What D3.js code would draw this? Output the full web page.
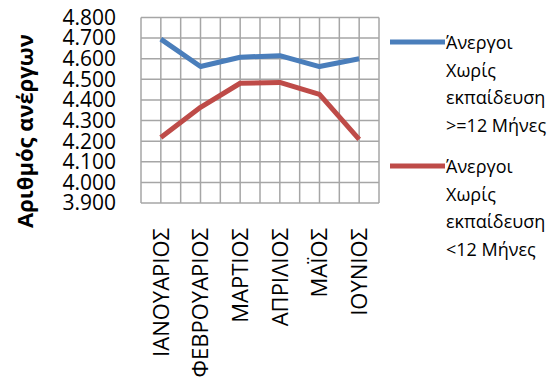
<!DOCTYPE html>
<html>
<head>
<meta charset="utf-8">
<script src="https://cdn.jsdelivr.net/npm/d3@7"></script>
<style>
body { margin: 0; background: #fff; }
svg { display: block; font-family: "Open Sans", sans-serif; }
</style>
</head>
<body>
<script>
//chart data
var months = ["ΙΑΝΟΥΑΡΙΟΣ", "ΦΕΒΡΟΥΑΡΙΟΣ", "ΜΑΡΤΙΟΣ", "ΑΠΡΙΛΙΟΣ", "ΜΑΪΟΣ", "ΙΟΥΝΙΟΣ"];
var longTerm = [4695, 4562, 4607, 4615, 4562, 4600];   //>=12 months
var shortTerm = [4218, 4364, 4481, 4485, 4427, 4209];  //<12 months
var yTicks = [3900, 4000, 4100, 4200, 4300, 4400, 4500, 4600, 4700, 4800];
var seriesNames = [
    ["Άνεργοι", "Χωρίς", "εκπαίδευση", ">=12 Μήνες"],
    ["Άνεργοι", "Χωρίς", "εκπαίδευση", "<12 Μήνες"]
];
var yTitle = "Αριθμός ανέργων";

var width = 557, height = 385;
var plot = {left: 141, right: 379, top: 17.5, bottom: 203};
var colors = ["#4a7ebb", "#be4b48"];

var svg = d3.select("body").append("svg")
    .attr("width", width)
    .attr("height", height);

//scales
var x = d3.scaleBand().domain(months).range([plot.left, plot.right]).padding(0);
var y = d3.scaleLinear().domain([3900, 4800]).range([plot.bottom, plot.top]);
var fmt = d3.formatLocale({decimal: ",", thousands: ".", grouping: [3], currency: ["", ""]}).format(",.0f");

//gridlines (vertical at band edges and centers)
var vLines = [];
months.forEach(function(m){
    vLines.push(x(m));
    vLines.push(x(m) + x.bandwidth() / 2);
});
vLines.push(plot.right);

svg.append("g").selectAll("line")
    .data(vLines)
    .enter().append("line")
    .attr("x1", function(d){ return d; })
    .attr("x2", function(d){ return d; })
    .attr("y1", plot.top)
    .attr("y2", plot.bottom)
    .attr("stroke", "#a6a6a6")
    .attr("stroke-width", 1.5);

svg.append("g").selectAll("line")
    .data(yTicks)
    .enter().append("line")
    .attr("x1", plot.left)
    .attr("x2", plot.right)
    .attr("y1", function(d){ return y(d); })
    .attr("y2", function(d){ return y(d); })
    .attr("stroke", "#a6a6a6")
    .attr("stroke-width", 1.5);

//y tick labels
svg.append("g").selectAll("text")
    .data(yTicks)
    .enter().append("text")
    .attr("x", 116)
    .attr("y", function(d){ return y(d); })
    .attr("dy", "0.35em")
    .attr("text-anchor", "end")
    .attr("font-size", 21)
    .attr("fill", "#000")
    .text(function(d){ return fmt(d); });

//y title
svg.append("text")
    .attr("transform", "translate(33,131) rotate(-90)")
    .attr("text-anchor", "middle")
    .attr("font-size", 22)
    .attr("font-weight", "bold")
    .text(yTitle);

//x labels
svg.append("g").selectAll("text")
    .data(months)
    .enter().append("text")
    .attr("transform", function(d){
        return "translate(" + (x(d) + x.bandwidth() / 2) + ",228) rotate(-90)";
    })
    .attr("dy", "0.35em")
    .attr("text-anchor", "end")
    .attr("font-size", 22)
    .text(function(d){ return d; });

//lines
var line = d3.line()
    .x(function(d, i){ return x(months[i]) + x.bandwidth() / 2; })
    .y(function(d){ return y(d); });

[longTerm, shortTerm].forEach(function(s, i){
    svg.append("path")
        .datum(s)
        .attr("d", line)
        .attr("fill", "none")
        .attr("stroke", colors[i])
        .attr("stroke-width", 5)
        .attr("stroke-linejoin", "round");
});

//legend
var legendY = [42, 166];
seriesNames.forEach(function(lines, i){
    var g = svg.append("g");
    g.append("line")
        .attr("x1", 390)
        .attr("x2", 445)
        .attr("y1", legendY[i])
        .attr("y2", legendY[i])
        .attr("stroke", colors[i])
        .attr("stroke-width", 5);
    g.selectAll("text")
        .data(lines)
        .enter().append("text")
        .attr("x", 446)
        .attr("y", function(d, j){ return legendY[i] + 1 + j * 27.5; })
        .attr("dy", "0.35em")
        .attr("font-size", 18)
        .text(function(d){ return d; });
});
</script>
</body>
</html>
